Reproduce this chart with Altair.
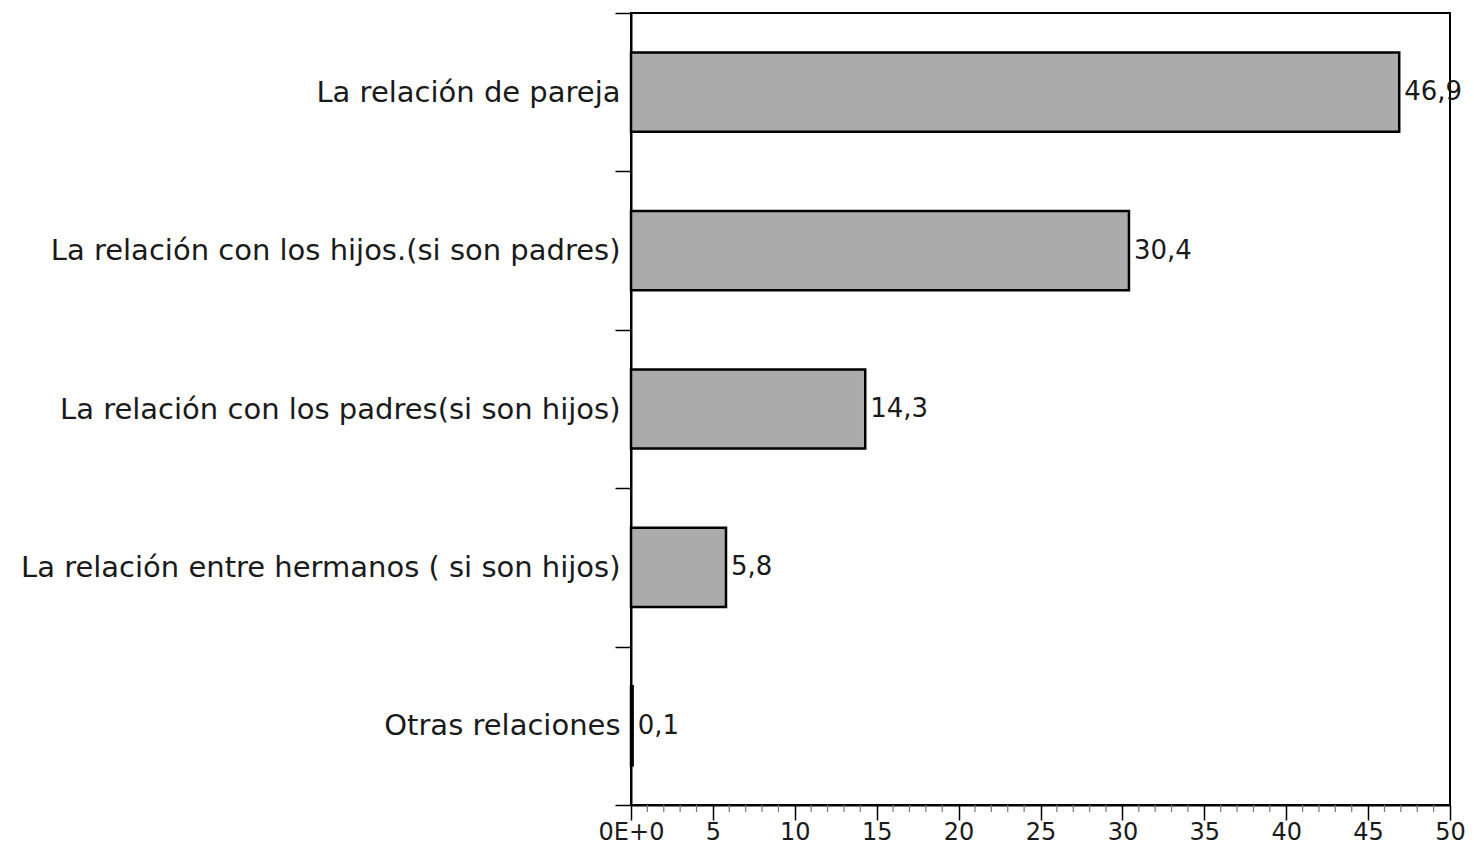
import altair as alt
import pandas as pd

categories = [
    "La relación de pareja",
    "La relación con los hijos.(si son padres)",
    "La relación con los padres(si son hijos)",
    "La relación entre hermanos ( si son hijos)",
    "Otras relaciones",
]
values = [46.9, 30.4, 14.3, 5.8, 0.1]
value_labels = ["46,9", "30,4", "14,3", "5,8", "0,1"]
major_ticks = [0, 5, 10, 15, 20, 25, 30, 35, 40, 45, 50]
minor_ticks = [m for m in range(1, 50) if m % 5 != 0]

df = pd.DataFrame({"cat": categories, "value": values, "lab": value_labels})
minor_df = pd.DataFrame({"m": minor_ticks})

FONT = "DejaVu Sans"
TXT = "#1a1a1a"
W, H = 819, 792

x_enc = alt.X(
    "value:Q",
    scale=alt.Scale(domain=[0, 50], nice=False, zero=True),
    axis=alt.Axis(
        title=None, grid=False, values=major_ticks, tickSize=15, tickWidth=1.5,
        tickColor="black", domainColor="black", domainWidth=2,
        labelFont=FONT, labelFontSize=24, labelColor=TXT, labelPadding=0,
        labelFlush=False, labelOverlap=False,
        labelExpr="datum.value == 0 ? '0E+0' : datum.label",
    ),
)
y_enc = alt.Y(
    "cat:N",
    sort=categories,
    scale=alt.Scale(paddingInner=0, paddingOuter=0),
    axis=alt.Axis(
        title=None, tickBand="extent", tickSize=16, tickWidth=1.5,
        tickColor="black", domainColor="black", domainWidth=2,
        labelFont=FONT, labelFontSize=29, labelColor=TXT, labelPadding=-5,
        labelLimit=0,
    ),
)

bars = alt.Chart(df).mark_bar(
    color="#ababab", stroke="black", strokeWidth=2.5,
    height=alt.RelativeBandSize(0.5),
).encode(x=x_enc, y=y_enc)

texts = alt.Chart(df).mark_text(
    align="left", baseline="middle", dx=5, fontSize=26, font=FONT, color=TXT,
).encode(x="value:Q", y=alt.Y("cat:N", sort=categories), text="lab:N")

minor = alt.Chart(minor_df).mark_rule(color="#777777", strokeWidth=1.2).encode(
    x="m:Q", y=alt.value(H), y2=alt.value(H + 7)
)

chart = alt.layer(bars, texts, minor).properties(
    width=W, height=H,
    background="white",
    autosize=alt.AutoSizeParams(type="none"),
    padding={"left": 623, "top": 5, "right": 16, "bottom": 45},
).configure_view(stroke="black", strokeWidth=2)

chart.save("out.html", embed_options={"renderer": "svg", "actions": False})
